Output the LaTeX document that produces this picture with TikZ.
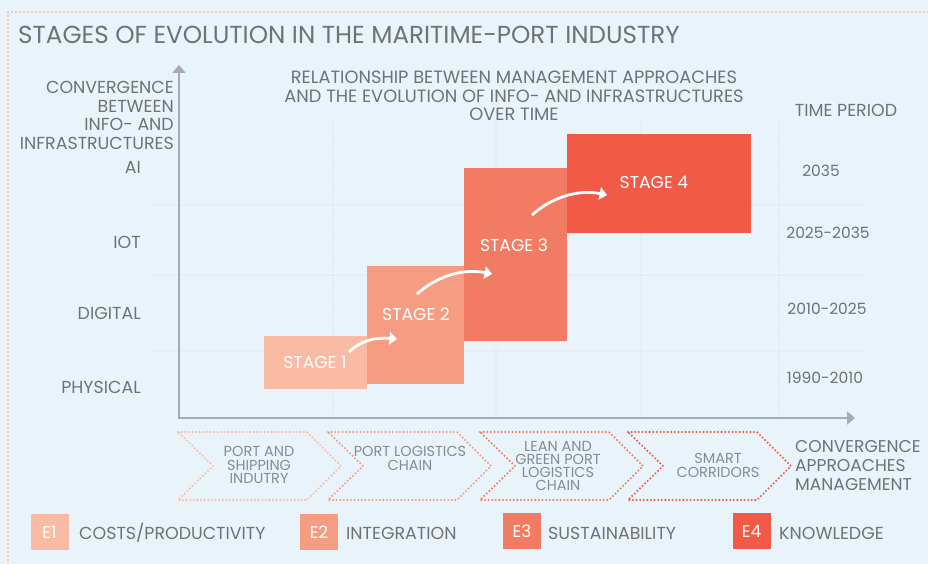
\documentclass[tikz,border=0pt]{standalone}
\usepackage{fontspec}
\setmainfont{Poppins}
\usetikzlibrary{arrows.meta}
\definecolor{bg}{RGB}{232,243,250}
\definecolor{peach}{RGB}{250,188,160}
\definecolor{txt}{RGB}{112,114,120}
\definecolor{ctxt}{RGB}{135,139,148}
\definecolor{axiscol}{RGB}{168,170,178}
\definecolor{gridcol}{RGB}{165,172,182}
\definecolor{cA}{RGB}{249,187,163}
\definecolor{cB}{RGB}{246,156,130}
\definecolor{cC}{RGB}{242,123,99}
\definecolor{cD}{RGB}{240,90,70}
\tikzset{
  lbl/.style={inner sep=0pt, text=txt, font=\fontsize{17.4}{18.5}\selectfont},
  chevtxt/.style={inner sep=0pt, text=ctxt, align=center, font=\fontsize{14.5}{13.3}\selectfont},
  stagebox/.style={draw=none, inner sep=0pt, minimum width=#1},
  stagelbl/.style={inner sep=0pt, text=white, font=\fontsize{17.2}{18}\selectfont},
  legbox/.style={inner sep=0pt, minimum width=38pt, minimum height=36pt, text=white, font=\fontsize{17}{18}\selectfont},
  gridline/.style={gridcol, line width=0.9pt, dash pattern=on 0pt off 3pt, line cap=round},
  chevline/.style={line width=2.3pt, dash pattern=on 0pt off 3.6pt, line cap=round},
  flow/.style={white, line width=2.8pt, -{Triangle[length=7.5pt,width=12.5pt]}},
}
\begin{document}
\begin{tikzpicture}[x=1pt,y=-1pt]
\useasboundingbox (0,0) rectangle (928,564);
\fill[bg] (0,0) rectangle (928,564);
\draw[peach, line width=2.3pt, dash pattern=on 0pt off 4pt, line cap=round] (8,564) -- (8,12) -- (928,12);

% title
\node[lbl, anchor=west, font=\fontsize{24.6}{28}\selectfont] (title) at (18,35) {STAGES OF EVOLUTION IN THE MARITIME-PORT INDUSTRY};

% grid
\foreach \yy in {205,275,351} \draw[gridline] (154,\yy) -- (862,\yy);
\foreach \xx in {333,496,641,779} \draw[gridline] (\xx,122) -- (\xx,418);

% axes
\coordinate (ytop) at (179,65);
\coordinate (origin) at (179,418);
\coordinate (xend) at (855,418);
\draw[axiscol, line width=1.8pt, {Triangle[length=8pt,width=13pt]}-{Triangle[length=8pt,width=13pt]}] (ytop) -- (origin) -- (xend);

% axis labels
\node[lbl, anchor=east, align=right] (yax) at (174,115.5) {CONVERGENCE\\BETWEEN\\INFO- AND\\INFRASTRUCTURES};
\node[lbl, anchor=east] (ai) at (141,167) {AI};
\node[lbl, anchor=east] (iot) at (141,242) {IOT};
\node[lbl, anchor=east] (dig) at (141,313) {DIGITAL};
\node[lbl, anchor=east] (phy) at (141,387) {PHYSICAL};

\node[lbl, align=center, font=\fontsize{17.8}{18.5}\selectfont] (ctitle) at (514,96) {RELATIONSHIP BETWEEN MANAGEMENT APPROACHES\\AND THE EVOLUTION OF INFO- AND INFRASTRUCTURES\\OVER TIME};

\node[lbl] (tp) at (846,110) {TIME PERIOD};
\node[lbl, font=\fontsize{15.5}{18}\selectfont] (y4) at (821,171) {2035};
\node[lbl, font=\fontsize{15.5}{18}\selectfont] (y3) at (828,233) {2025-2035};
\node[lbl, font=\fontsize{15.5}{18}\selectfont] (y2) at (827,309) {2010-2025};
\node[lbl, font=\fontsize{15.5}{18}\selectfont] (y1) at (825,378) {1990-2010};

% stage boxes
\node[stagebox=103pt, minimum height=53pt, fill=cA] (s1) at (315.5,362.5) {};
\node[stagebox=97pt, minimum height=118pt, fill=cB] (s2) at (415.5,325) {};
\node[stagebox=103pt, minimum height=173pt, fill=cC] (s3) at (515.5,254.5) {};
\node[stagebox=184pt, minimum height=99pt, fill=cD] (s4) at (659,183.5) {};

\node[stagelbl] (l1) at (315,362) {STAGE 1};
\node[stagelbl] (l2) at (416,314) {STAGE 2};
\node[stagelbl] (l3) at (514,245) {STAGE 3};
\node[stagelbl] (l4) at (654,182) {STAGE 4};

% curved arrows
\coordinate (a1s) at (349,352); \coordinate (a1e) at (397,339);
\coordinate (a2s) at (417,294); \coordinate (a2e) at (492,274);
\coordinate (a3s) at (532,215); \coordinate (a3e) at (607,195);
\draw[flow] (a1s) .. controls (360,341) and (375,337) .. (a1e);
\draw[flow] (a2s) .. controls (436,277) and (462,268) .. (a2e);
\draw[flow] (a3s) .. controls (551,198) and (577,189) .. (a3e);

% chevrons
\foreach \x/\c in {178/cA, 328/cB, 480/cC, 628/cD}{
  \draw[chevline, \c] (\x,432) -- (\x+129,432) -- (\x+163,466) -- (\x+129,500) -- (\x,500) -- (\x+35,466) -- cycle;
}
\node[chevtxt] (c1) at (259,465) {PORT AND\\SHIPPING\\INDUTRY};
\node[chevtxt] (c2) at (410,458.5) {PORT LOGISTICS\\CHAIN};
\node[chevtxt] (c3) at (558,466) {LEAN AND\\GREEN PORT\\LOGISTICS\\CHAIN};
\node[chevtxt] (c4) at (718,465.5) {SMART\\CORRIDORS};
\node[lbl, anchor=west, align=left, font=\fontsize{17.1}{19}\selectfont] (conv) at (795,466) {CONVERGENCE\\APPROACHES\\MANAGEMENT};

% legend
\node[legbox, fill=cA] (e1) at (49.5,532) {E1};
\node[lbl, anchor=west] (t1) at (79,533) {COSTS/PRODUCTIVITY};
\node[legbox, fill=cB] (e2) at (319,532) {E2};
\node[lbl, anchor=west] (t2) at (346,533) {INTEGRATION};
\node[legbox, fill=cC] (e3) at (522,531) {E3};
\node[lbl, anchor=west] (t3) at (548,533) {SUSTAINABILITY};
\node[legbox, fill=cD] (e4) at (751.5,531) {E4};
\node[lbl, anchor=west] (t4) at (779,533) {KNOWLEDGE};
\end{tikzpicture}
\end{document}
